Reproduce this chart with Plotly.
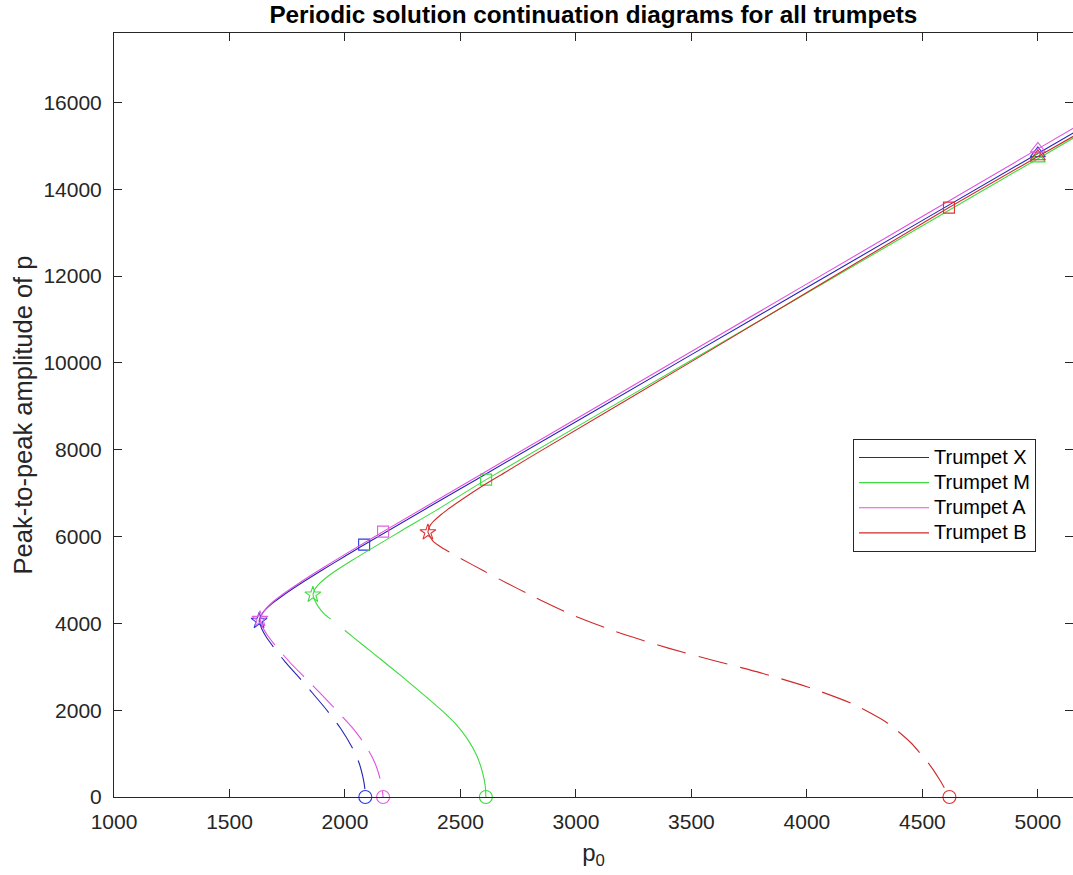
import plotly.graph_objects as go

# ---------------- data ----------------
names = ["Trumpet X", "Trumpet M", "Trumpet A", "Trumpet B"]

# stable (solid) branches: from fold point upward
x_stable_p0 = [1628, 1635, 1650, 1680, 1730, 1800, 1900, 2000, 2083, 2573, 3500, 4000, 5000, 5160]
x_stable_amp = [4057, 4169, 4285, 4438, 4637, 4889, 5223, 5547, 5813, 7327, 10191, 11737, 14826, 15320]

m_stable_p0 = [1861, 1868, 1883, 1913, 1963, 2033, 2133, 2250, 2400, 2611, 3500, 4500, 5000, 5160]
m_stable_amp = [4661, 4768, 4879, 5027, 5222, 5460, 5780, 6150, 6620, 7311, 10060, 13160, 14705, 15200]

a_stable_p0 = [1632, 1642, 1657, 1687, 1737, 1807, 1907, 2007, 2165, 3000, 4000, 5000, 5160]
a_stable_amp = [4100, 4217, 4334, 4492, 4693, 4948, 5285, 5612, 6113, 8710, 11820, 14930, 15428]

b_stable_p0 = [2359, 2363, 2372, 2385, 2410, 2441, 2500, 2585, 2700, 2802, 3500, 4615, 5000, 5160]
b_stable_amp = [6097, 6200, 6280, 6360, 6480, 6610, 6830, 7130, 7500, 7830, 10030, 13578, 14755, 15240]

# unstable (dashed) branches: from fold point down to the Hopf point
x_unstable_p0 = [1628, 1640, 1660, 1690, 1740, 1800, 1860, 1920, 1980, 2030, 2060, 2078, 2086, 2088]
x_unstable_amp = [4057, 3870, 3680, 3460, 3120, 2760, 2390, 2010, 1590, 1150, 800, 450, 200, 0]

m_unstable_p0 = [1861, 1870, 1885, 1910, 1950, 2000, 2080, 2160, 2250, 2340, 2420, 2480, 2530, 2570, 2595, 2607, 2610]
m_unstable_amp = [4661, 4520, 4380, 4220, 4050, 3835, 3490, 3150, 2760, 2360, 1990, 1680, 1340, 960, 580, 270, 0]

a_unstable_p0 = [1632, 1645, 1665, 1700, 1760, 1830, 1900, 1970, 2030, 2080, 2116, 2140, 2155, 2162, 2165]
a_unstable_amp = [4100, 3900, 3720, 3480, 3110, 2730, 2350, 1960, 1610, 1260, 940, 640, 360, 150, 0]

b_unstable_p0 = [2359, 2380, 2420, 2500, 2600, 2700, 2800, 2900, 3000, 3200, 3400, 3600, 3800,
                 4000, 4200, 4350, 4450, 4530, 4580, 4617]
b_unstable_amp = [6097, 5900, 5740, 5500, 5210, 4930, 4660, 4400, 4160, 3760, 3430, 3140, 2860,
                  2540, 2140, 1700, 1250, 750, 350, 0]

# special points: Hopf (circle), fold (star), square marks, triangle at p0 = 5000
hopf_p0 = [2088, 2610, 2165, 4617]
fold_p0 = [1628, 1861, 1632, 2359]
fold_amp = [4057, 4661, 4100, 6097]
square_p0 = [2083, 2611, 2165, 4615]
square_amp = [5813, 7311, 6113, 13578]
tri_p0 = [5000, 5000, 5000, 5000]
tri_amp = [14826, 14705, 14930, 14755]

x_ticks = [1000, 1500, 2000, 2500, 3000, 3500, 4000, 4500, 5000]
y_ticks = [0, 2000, 4000, 6000, 8000, 10000, 12000, 14000, 16000]

line_colors = ["#2424b4", "#3ddc3d", "#e050e0", "#d02a2a"]
marker_colors = ["#2a3ae0", "#3ddc3d", "#e060e0", "#e03232"]
dashes = ["30px,13px", "31px,18px,3000px", "30px,13px", "30px,13px"]

stable = [(x_stable_p0, x_stable_amp), (m_stable_p0, m_stable_amp),
          (a_stable_p0, a_stable_amp), (b_stable_p0, b_stable_amp)]
unstable = [(x_unstable_p0, x_unstable_amp), (m_unstable_p0, m_unstable_amp),
            (a_unstable_p0, a_unstable_amp), (b_unstable_p0, b_unstable_amp)]

fig = go.Figure()

for i, name in enumerate(names):
    sx, sy = stable[i]
    ux, uy = unstable[i]
    fig.add_trace(go.Scatter(x=sx, y=sy, mode="lines",
                             name='<span style="font-size:20px">' + name + "</span>",
                             line=dict(color=line_colors[i], width=1.1, shape="spline", smoothing=0.8),
                             legendrank=i + 1, showlegend=True))
    fig.add_trace(go.Scatter(x=ux, y=uy, mode="lines", showlegend=False,
                             line=dict(color=line_colors[i], width=1.1, dash=dashes[i],
                                       shape="spline", smoothing=0.6)))
    mk = dict(color=marker_colors[i], line=dict(color=marker_colors[i], width=1.1))
    fig.add_trace(go.Scatter(x=[hopf_p0[i]], y=[0], mode="markers", showlegend=False, cliponaxis=False,
                             marker=dict(symbol="circle-open", size=13, **mk)))
    fig.add_trace(go.Scatter(x=[fold_p0[i]], y=[fold_amp[i]], mode="markers", showlegend=False,
                             cliponaxis=False, marker=dict(symbol="star-open", size=12, **mk)))
    fig.add_trace(go.Scatter(x=[square_p0[i]], y=[square_amp[i]], mode="markers", showlegend=False,
                             cliponaxis=False, marker=dict(symbol="square-open", size=11, **mk)))
    fig.add_trace(go.Scatter(x=[tri_p0[i]], y=[tri_amp[i]], mode="markers", showlegend=False,
                             cliponaxis=False, marker=dict(symbol="triangle-up-open", size=13, **mk)))

axis_color = "#262626"
font_family = "Liberation Sans, Arial, Helvetica, sans-serif"

fig.update_layout(
    width=1073, height=875,
    margin=dict(l=114, r=0, t=33, b=78, autoexpand=False),
    paper_bgcolor="white", plot_bgcolor="white",
    font=dict(family=font_family, color=axis_color),
    title=dict(text="<b>Periodic solution continuation diagrams for all trumpets</b>",
               x=0.553, xanchor="center", xref="container",
               y=0.983, yanchor="middle", yref="container",
               font=dict(size=24.3, color="#000000")),
    showlegend=True,
    legend=dict(x=0.7706, y=0.4686, xanchor="left", yanchor="top",
                bgcolor="white", bordercolor=axis_color, borderwidth=1,
                font=dict(size=17, color="#000000"), itemwidth=70,
                traceorder="normal"),
    xaxis=dict(range=[1000, 5152], tickvals=x_ticks, tickformat="d", automargin=False,
               ticks="inside", ticklen=8, tickcolor=axis_color, tickwidth=1,
               showline=True, linecolor=axis_color, linewidth=1, mirror="ticks",
               showgrid=False, zeroline=False, ticklabelstandoff=6,
               tickfont=dict(size=21, color=axis_color),
               title=dict(text="p<sub>0</sub>", font=dict(size=24, color=axis_color), standoff=11)),
    yaxis=dict(range=[0, 17600], tickvals=y_ticks, tickformat="d", automargin=False,
               ticks="inside", ticklen=8, tickcolor=axis_color, tickwidth=1,
               showline=True, linecolor=axis_color, linewidth=1, mirror="ticks",
               showgrid=False, zeroline=False,
               tickfont=dict(size=21, color=axis_color), ticklabelstandoff=7,
               title=dict(text="Peak-to-peak amplitude of p", font=dict(size=25.5, color=axis_color),
                          standoff=3)),
)

fig.write_html("out.html", config={"displayModeBar": False},
               post_script="document.body.style.margin='0';document.body.style.overflow='hidden';")
